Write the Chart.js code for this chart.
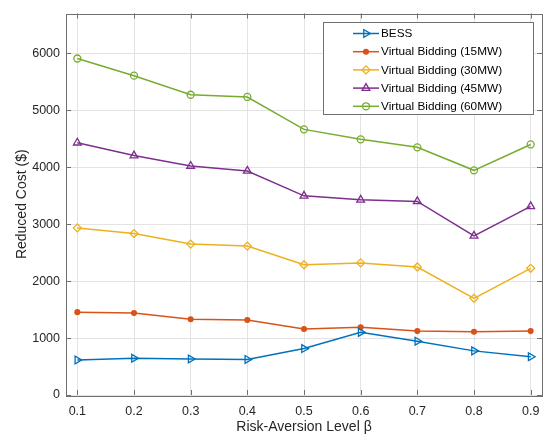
<!DOCTYPE html>
<html>
<head>
<meta charset="utf-8">
<script src="https://cdn.jsdelivr.net/npm/chart.js@4.4.0/dist/chart.umd.min.js"></script>
<style>
  html, body { margin: 0; padding: 0; background: #fff; }
</style>
</head>
<body>
<canvas id="riskChart" width="549" height="440"></canvas>
<script>
// risk-aversion levels on the x axis
const beta = [0.1, 0.2, 0.3, 0.4, 0.5, 0.6, 0.7, 0.8, 0.9];
const yTicks = [0, 1000, 2000, 3000, 4000, 5000, 6000];

// reduced cost ($) per series
const bess   = [615, 645, 632, 625, 815, 1100, 945, 775, 672];
const vb15   = [1455, 1440, 1330, 1318, 1158, 1190, 1122, 1110, 1122];
const vb30   = [2935, 2835, 2650, 2615, 2288, 2320, 2248, 1698, 2225];
const vb45   = [4430, 4205, 4022, 3935, 3498, 3428, 3400, 2795, 3312];
const vb60   = [5910, 5608, 5273, 5234, 4665, 4490, 4350, 3946, 4400];

const seriesNames = ['BESS', 'Virtual Bidding (15MW)', 'Virtual Bidding (30MW)',
                     'Virtual Bidding (45MW)', 'Virtual Bidding (60MW)'];

const FONT = '"Liberation Sans", Arial, Helvetica, sans-serif';
const AXIS_COLOR = '#707070';

function pts(vals) {
    return beta.map((b, i) => ({ x: b, y: vals[i] }));
}

function makeSet(label, vals, color, style, radius, rot, filled) {
    return {
        label: label,
        data: pts(vals),
        borderColor: color,
        borderWidth: 1.5,
        pointStyle: style,
        pointRadius: radius,
        pointRotation: rot,
        pointBorderColor: color,
        pointBorderWidth: 1.3,
        pointBackgroundColor: filled ? color : 'rgba(0,0,0,0)',
        tension: 0
    };
}

const datasets = [
    makeSet(seriesNames[0], bess, '#0072BD', 'triangle', 4.5, 90, false),
    makeSet(seriesNames[1], vb15, '#D95319', 'circle', 2.4, 0, true),
    makeSet(seriesNames[2], vb30, '#EDB120', 'rectRot', 4, 0, false),
    makeSet(seriesNames[3], vb45, '#7E2F8E', 'triangle', 4.5, 0, false),
    makeSet(seriesNames[4], vb60, '#77AC30', 'circle', 3.5, 0, false)
];

// box around plot area + inward tick marks (matlab style)
const boxPlugin = {
    id: 'boxTicks',
    afterDatasetsDraw(chart) {
        const { ctx, chartArea: a, scales } = chart;
        const tl = 5;
        ctx.save();
        ctx.strokeStyle = AXIS_COLOR;
        ctx.lineWidth = 1;
        ctx.beginPath();
        scales.x.ticks.forEach(t => {
            const px = Math.round(scales.x.getPixelForValue(t.value)) + 0.5;
            ctx.moveTo(px, a.bottom); ctx.lineTo(px, a.bottom - tl);
            ctx.moveTo(px, a.top); ctx.lineTo(px, a.top + tl);
        });
        scales.y.ticks.forEach(t => {
            const py = Math.round(scales.y.getPixelForValue(t.value)) + 0.5;
            ctx.moveTo(a.left, py); ctx.lineTo(a.left + tl, py);
            ctx.moveTo(a.right, py); ctx.lineTo(a.right - tl, py);
        });
        ctx.stroke();
        ctx.strokeRect(Math.round(a.left) + 0.5, Math.round(a.top) + 0.5,
                       Math.round(a.right - a.left), Math.round(a.bottom - a.top));
        ctx.restore();
    }
};

// legend drawn inside the plot, top right
const legendPlugin = {
    id: 'insideLegend',
    afterDraw(chart) {
        const ctx = chart.ctx;
        const x0 = 323, y0 = 22, w = 210, h = 92;
        const rowH = 18.2;
        ctx.save();
        ctx.fillStyle = '#fff';
        ctx.fillRect(x0, y0, w, h);
        ctx.strokeStyle = AXIS_COLOR;
        ctx.lineWidth = 1;
        ctx.strokeRect(x0 + 0.5, y0 + 0.5, w, h);
        ctx.font = '11.8px ' + FONT;
        ctx.textBaseline = 'middle';
        chart.data.datasets.forEach((ds, i) => {
            const cy = y0 + 11.5 + i * rowH;
            ctx.strokeStyle = ds.borderColor;
            ctx.lineWidth = ds.borderWidth;
            ctx.beginPath();
            ctx.moveTo(353, cy); ctx.lineTo(379, cy);
            ctx.stroke();
            ctx.lineWidth = ds.pointBorderWidth;
            ctx.fillStyle = ds.pointBackgroundColor;
            Chart.helpers.drawPoint(ctx, {
                pointStyle: ds.pointStyle,
                rotation: ds.pointRotation,
                radius: ds.pointRadius,
                borderWidth: ds.pointBorderWidth
            }, 366, cy);
            ctx.fillStyle = '#000';
            ctx.fillText(ds.label, 381, cy + 0.5);
        });
        ctx.restore();
    }
};

new Chart(document.getElementById('riskChart'), {
    type: 'line',
    data: { datasets: datasets },
    options: {
        responsive: false,
        animation: false,
        devicePixelRatio: 1,
        layout: { padding: { top: 8, right: 7, left: 0, bottom: 0 } },
        plugins: { legend: { display: false }, tooltip: { enabled: false } },
        scales: {
            x: {
                type: 'linear',
                min: 0.08,
                max: 0.92,
                afterBuildTicks: s => { s.ticks = beta.map(v => ({ value: v })); },
                afterFit: s => { s.height = 45; },
                grid: { color: '#e3e3e3', drawTicks: false },
                border: { display: false },
                ticks: {
                    padding: 9,
                    color: '#262626',
                    font: { family: FONT, size: 12.5 },
                    callback: v => v.toFixed(1)
                },
                title: {
                    display: true,
                    text: 'Risk-Aversion Level β',
                    color: '#262626',
                    font: { family: FONT, size: 14 },
                    padding: { top: 0, bottom: 4.5 }
                }
            },
            y: {
                min: 0,
                max: 6700,
                afterBuildTicks: s => { s.ticks = yTicks.map(v => ({ value: v })); },
                afterFit: s => { s.width = 66; },
                grid: { color: '#e3e3e3', drawTicks: false },
                border: { display: false },
                ticks: {
                    padding: 6,
                    color: '#262626',
                    font: { family: FONT, size: 12.5 },
                    callback: v => String(v)
                },
                title: {
                    display: true,
                    text: 'Reduced Cost ($)',
                    color: '#262626',
                    font: { family: FONT, size: 14 },
                    padding: { top: 13.5, bottom: 0 }
                }
            }
        }
    },
    plugins: [boxPlugin, legendPlugin]
});
</script>
</body>
</html>
